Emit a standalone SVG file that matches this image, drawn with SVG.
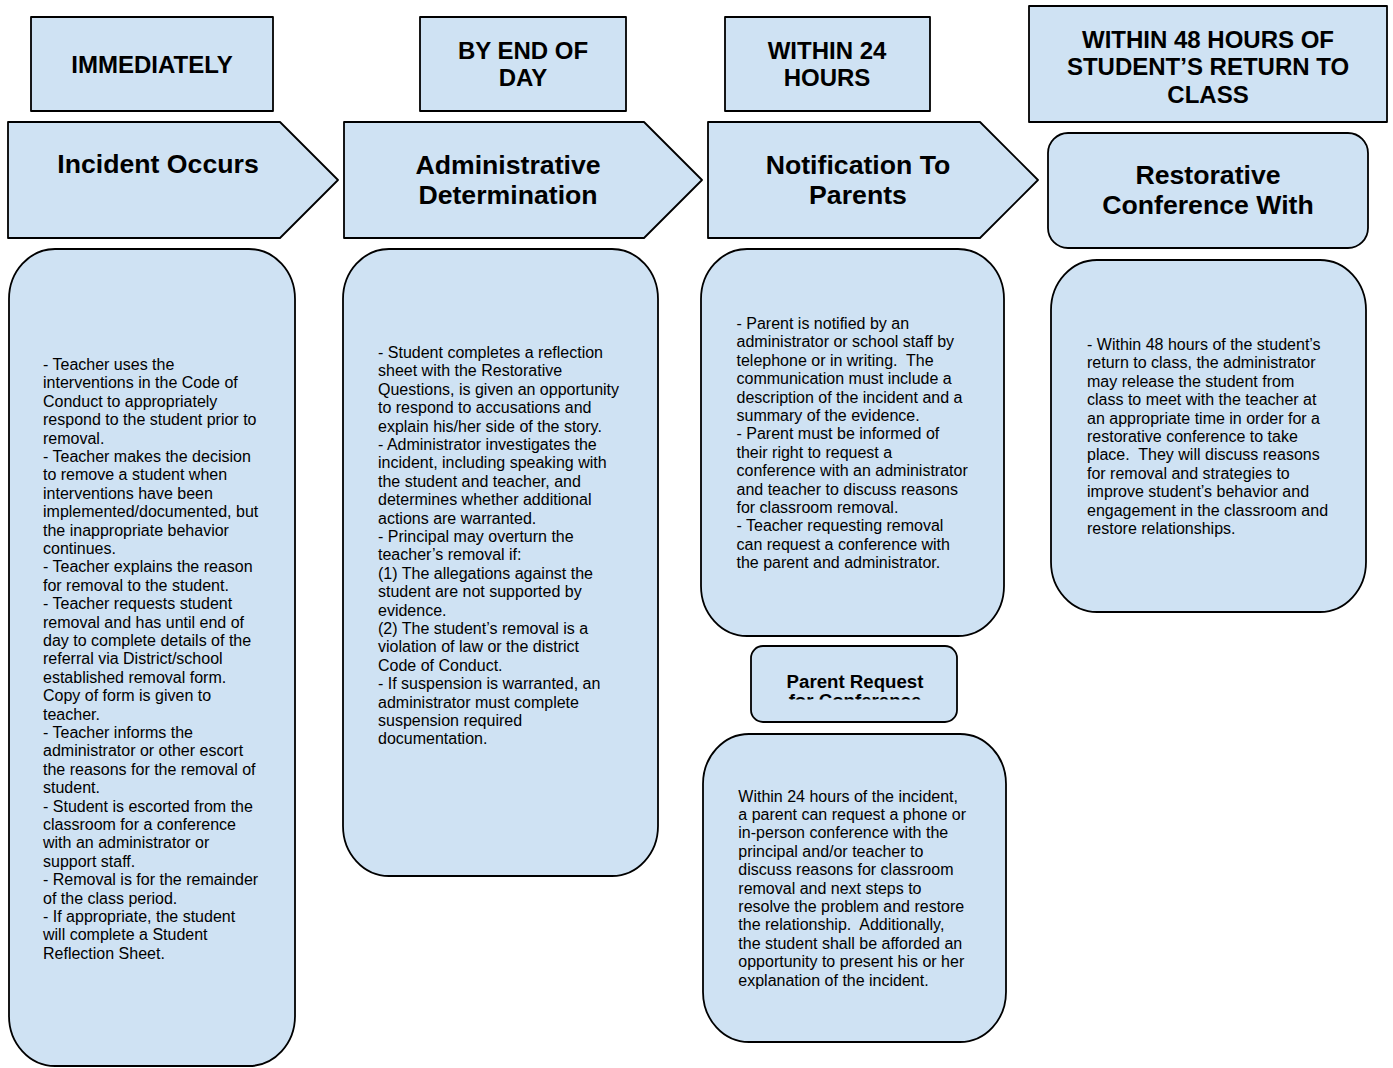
<svg xmlns="http://www.w3.org/2000/svg" width="1393" height="1068" viewBox="0 0 1393 1068">
<style>
.shape{fill:#cfe2f3;stroke:#000;stroke-width:1.8;stroke-linejoin:round}
text{font-family:"Liberation Sans",Arial,sans-serif;fill:#000}
.hdr{font-size:24px;font-weight:bold;text-anchor:middle}
.ttl{font-size:26.67px;font-weight:bold;text-anchor:middle}
.sub{font-size:18.67px;font-weight:bold;text-anchor:middle}
.body{font-size:16px}
</style>
<defs>
<clipPath id="clipPR"><rect x="751" y="646" width="206" height="53.5"/></clipPath>
</defs>
<rect width="1393" height="1068" fill="#fff"/>

<g id="hdr-immediately">
<rect class="shape" x="31" y="17" width="242" height="94"/>
<text class="hdr" x="152" y="72.6">IMMEDIATELY</text>
</g>
<g id="hdr-endofday">
<rect class="shape" x="420" y="17" width="206" height="94"/>
<text class="hdr" x="523" y="58.6">BY END OF<tspan x="523" dy="27.6">DAY</tspan></text>
</g>
<g id="hdr-24hours">
<rect class="shape" x="725" y="17" width="205" height="94"/>
<text class="hdr" x="827" y="58.6">WITHIN 24<tspan x="827" dy="27.6">HOURS</tspan></text>
</g>
<g id="hdr-48hours">
<rect class="shape" x="1029" y="6" width="358" height="116"/>
<text class="hdr" x="1208" y="47.6">WITHIN 48 HOURS OF<tspan x="1208" dy="27.6">STUDENT’S RETURN TO</tspan><tspan x="1208" dy="27.6">CLASS</tspan></text>
</g>

<g id="step-incident">
<polygon class="shape" points="8,122 280,122 338,180 280,238 8,238"/>
<text class="ttl" x="158" y="172.5">Incident Occurs</text>
</g>
<g id="step-admin">
<polygon class="shape" points="344,122 644,122 702,180 644,238 344,238"/>
<text class="ttl" x="508" y="173.5">Administrative<tspan x="508" dy="30.67">Determination</tspan></text>
</g>
<g id="step-notify">
<polygon class="shape" points="708,122 980,122 1038,180 980,238 708,238"/>
<text class="ttl" x="858" y="173.5">Notification To<tspan x="858" dy="30.67">Parents</tspan></text>
</g>
<g id="step-restorative">
<rect class="shape" x="1048" y="133" width="320" height="115" rx="20" ry="20"/>
<text class="ttl" x="1208" y="183.5">Restorative<tspan x="1208" dy="30.67">Conference With</tspan></text>
</g>

<g id="detail-incident">
<rect class="shape" x="9" y="249" width="286" height="817" rx="46" ry="50"/>
<text class="body" x="43" y="370"><tspan x="43">- Teacher uses the</tspan><tspan x="43" dy="18.4">interventions in the Code of</tspan><tspan x="43" dy="18.4">Conduct to appropriately</tspan><tspan x="43" dy="18.4">respond to the student prior to</tspan><tspan x="43" dy="18.4">removal.</tspan><tspan x="43" dy="18.4">- Teacher makes the decision</tspan><tspan x="43" dy="18.4">to remove a student when</tspan><tspan x="43" dy="18.4">interventions have been</tspan><tspan x="43" dy="18.4">implemented/documented, but</tspan><tspan x="43" dy="18.4">the inappropriate behavior</tspan><tspan x="43" dy="18.4">continues.</tspan><tspan x="43" dy="18.4">- Teacher explains the reason</tspan><tspan x="43" dy="18.4">for removal to the student.</tspan><tspan x="43" dy="18.4">- Teacher requests student</tspan><tspan x="43" dy="18.4">removal and has until end of</tspan><tspan x="43" dy="18.4">day to complete details of the</tspan><tspan x="43" dy="18.4">referral via District/school</tspan><tspan x="43" dy="18.4">established removal form.</tspan><tspan x="43" dy="18.4">Copy of form is given to</tspan><tspan x="43" dy="18.4">teacher.</tspan><tspan x="43" dy="18.4">- Teacher informs the</tspan><tspan x="43" dy="18.4">administrator or other escort</tspan><tspan x="43" dy="18.4">the reasons for the removal of</tspan><tspan x="43" dy="18.4">student.</tspan><tspan x="43" dy="18.4">- Student is escorted from the</tspan><tspan x="43" dy="18.4">classroom for a conference</tspan><tspan x="43" dy="18.4">with an administrator or</tspan><tspan x="43" dy="18.4">support staff.</tspan><tspan x="43" dy="18.4">- Removal is for the remainder</tspan><tspan x="43" dy="18.4">of the class period.</tspan><tspan x="43" dy="18.4">- If appropriate, the student</tspan><tspan x="43" dy="18.4">will complete a Student</tspan><tspan x="43" dy="18.4">Reflection Sheet.</tspan></text>
</g>

<g id="detail-admin">
<rect class="shape" x="343" y="249" width="315" height="627" rx="46" ry="50"/>
<text class="body" x="378" y="358"><tspan x="378">- Student completes a reflection</tspan><tspan x="378" dy="18.4">sheet with the Restorative</tspan><tspan x="378" dy="18.4">Questions, is given an opportunity</tspan><tspan x="378" dy="18.4">to respond to accusations and</tspan><tspan x="378" dy="18.4">explain his/her side of the story.</tspan><tspan x="378" dy="18.4">- Administrator investigates the</tspan><tspan x="378" dy="18.4">incident, including speaking with</tspan><tspan x="378" dy="18.4">the student and teacher, and</tspan><tspan x="378" dy="18.4">determines whether additional</tspan><tspan x="378" dy="18.4">actions are warranted.</tspan><tspan x="378" dy="18.4">- Principal may overturn the</tspan><tspan x="378" dy="18.4">teacher’s removal if:</tspan><tspan x="378" dy="18.4">(1) The allegations against the</tspan><tspan x="378" dy="18.4">student are not supported by</tspan><tspan x="378" dy="18.4">evidence.</tspan><tspan x="378" dy="18.4">(2) The student’s removal is a</tspan><tspan x="378" dy="18.4">violation of law or the district</tspan><tspan x="378" dy="18.4">Code of Conduct.</tspan><tspan x="378" dy="18.4">- If suspension is warranted, an</tspan><tspan x="378" dy="18.4">administrator must complete</tspan><tspan x="378" dy="18.4">suspension required</tspan><tspan x="378" dy="18.4">documentation.</tspan></text>
</g>

<g id="detail-notify">
<rect class="shape" x="701" y="249" width="303" height="387" rx="46" ry="50"/>
<text class="body" x="736.5" y="329"><tspan x="736.5">- Parent is notified by an</tspan><tspan x="736.5" dy="18.4">administrator or school staff by</tspan><tspan x="736.5" dy="18.4">telephone or in writing.&#160; The</tspan><tspan x="736.5" dy="18.4">communication must include a</tspan><tspan x="736.5" dy="18.4">description of the incident and a</tspan><tspan x="736.5" dy="18.4">summary of the evidence.</tspan><tspan x="736.5" dy="18.4">- Parent must be informed of</tspan><tspan x="736.5" dy="18.4">their right to request a</tspan><tspan x="736.5" dy="18.4">conference with an administrator</tspan><tspan x="736.5" dy="18.4">and teacher to discuss reasons</tspan><tspan x="736.5" dy="18.4">for classroom removal.</tspan><tspan x="736.5" dy="18.4">- Teacher requesting removal</tspan><tspan x="736.5" dy="18.4">can request a conference with</tspan><tspan x="736.5" dy="18.4">the parent and administrator.</tspan></text>
</g>

<g id="parent-request">
<rect class="shape" x="751" y="646" width="206" height="76" rx="12" ry="12"/>
<g clip-path="url(#clipPR)">
<text class="sub" x="855" y="688">Parent Request<tspan x="855" dy="18.7">for Conference</tspan></text>
</g>
</g>

<g id="detail-parent-request">
<rect class="shape" x="703" y="734" width="303" height="308" rx="46" ry="50"/>
<text class="body" x="738.3" y="801.5"><tspan x="738.3">Within 24 hours of the incident,</tspan><tspan x="738.3" dy="18.4">a parent can request a phone or</tspan><tspan x="738.3" dy="18.4">in-person conference with the</tspan><tspan x="738.3" dy="18.4">principal and/or teacher to</tspan><tspan x="738.3" dy="18.4">discuss reasons for classroom</tspan><tspan x="738.3" dy="18.4">removal and next steps to</tspan><tspan x="738.3" dy="18.4">resolve the problem and restore</tspan><tspan x="738.3" dy="18.4">the relationship.&#160; Additionally,</tspan><tspan x="738.3" dy="18.4">the student shall be afforded an</tspan><tspan x="738.3" dy="18.4">opportunity to present his or her</tspan><tspan x="738.3" dy="18.4">explanation of the incident.</tspan></text>
</g>

<g id="detail-restorative">
<rect class="shape" x="1051" y="260" width="315" height="352" rx="46" ry="50"/>
<text class="body" x="1087" y="350"><tspan x="1087">- Within 48 hours of the student’s</tspan><tspan x="1087" dy="18.4">return to class, the administrator</tspan><tspan x="1087" dy="18.4">may release the student from</tspan><tspan x="1087" dy="18.4">class to meet with the teacher at</tspan><tspan x="1087" dy="18.4">an appropriate time in order for a</tspan><tspan x="1087" dy="18.4">restorative conference to take</tspan><tspan x="1087" dy="18.4">place.&#160; They will discuss reasons</tspan><tspan x="1087" dy="18.4">for removal and strategies to</tspan><tspan x="1087" dy="18.4">improve student’s behavior and</tspan><tspan x="1087" dy="18.4">engagement in the classroom and</tspan><tspan x="1087" dy="18.4">restore relationships.</tspan></text>
</g>

<g id="connectors"></g>
</svg>
